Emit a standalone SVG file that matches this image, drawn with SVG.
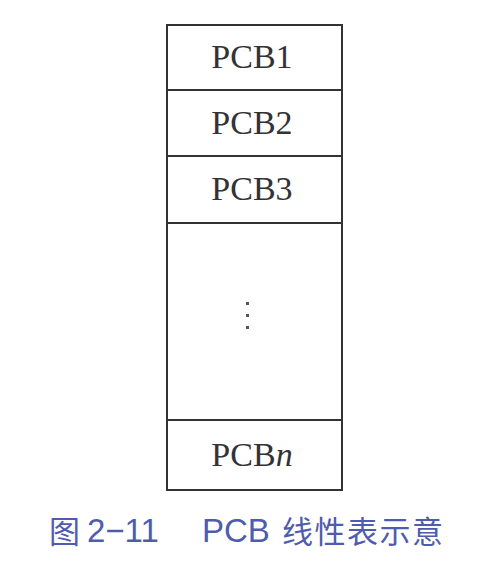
<svg xmlns="http://www.w3.org/2000/svg" width="480" height="573" viewBox="0 0 480 573">
<style>
.cell{fill:#fff;stroke:#333;stroke-width:2}
.lbl{font-family:"Liberation Serif",serif;font-size:34px;fill:#333;text-anchor:middle}
.cap{font-family:"Liberation Sans","Noto Sans CJK SC",sans-serif;font-size:33px;fill:#4f5cae}
.capc{font-family:"Noto Sans CJK SC",sans-serif;font-size:31px;fill:#4f5cae}
</style>
<rect width="480" height="573" fill="#fff"/>
<g id="pcb1"><rect class="cell" x="167" y="25" width="175" height="65"/><text class="lbl" x="252" y="68">PCB1</text></g>
<g id="pcb2"><rect class="cell" x="167" y="90" width="175" height="66"/><text class="lbl" x="252" y="134">PCB2</text></g>
<g id="pcb3"><rect class="cell" x="167" y="156" width="175" height="67"/><text class="lbl" x="252" y="200">PCB3</text></g>
<g id="ellipsis"><rect class="cell" x="167" y="223" width="175" height="197"/>
<rect x="246" y="302" width="3" height="3" fill="#555"/><rect x="246" y="314" width="3" height="3" fill="#555"/><rect x="246" y="326" width="3" height="3" fill="#555"/></g>
<g id="pcbn"><rect class="cell" x="167" y="420" width="175" height="70"/><text class="lbl" x="252" y="466">PCB<tspan font-style="italic">n</tspan></text></g>
<g id="connectors"/>
<g id="caption">
<text class="capc" x="49" y="543">图</text>
<text class="cap" x="87" y="542">2−11</text>
<text class="cap" x="202" y="542">PCB</text>
<text class="capc" x="282" y="543" letter-spacing="1.5">线性表示意</text>
</g>
</svg>
